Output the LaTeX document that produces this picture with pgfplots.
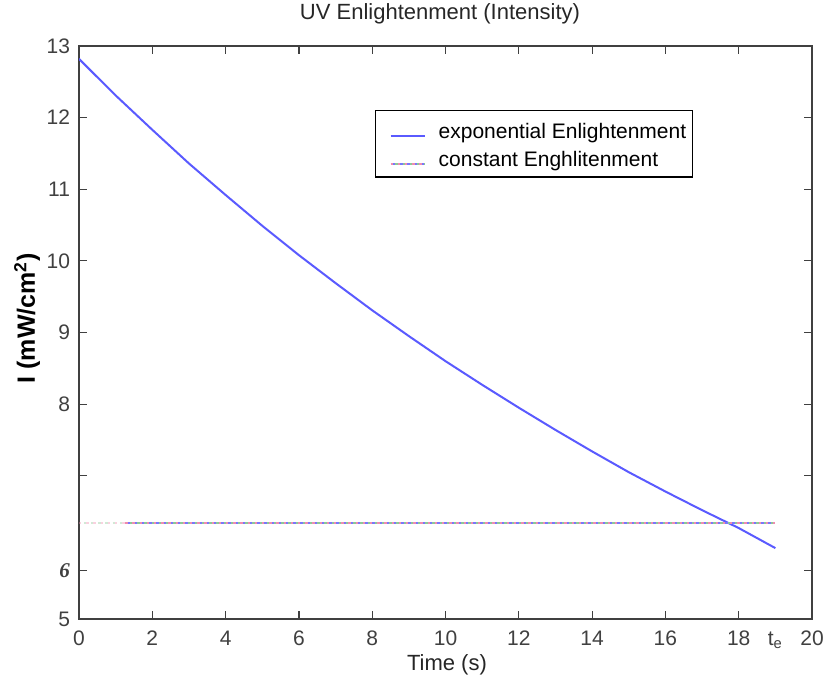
\documentclass[border=0pt]{standalone}
\usepackage{pgfplots}
\pgfplotsset{compat=1.18}
\usepackage{fontspec}
\setmainfont{Liberation Sans}
\newfontfamily\serifb{Liberation Serif}
\usetikzlibrary{calc}
\definecolor{expblue}{RGB}{90,90,255}
\definecolor{dotpink}{RGB}{240,140,175}
\definecolor{dotgreen}{RGB}{140,200,150}
\definecolor{dotblue}{RGB}{120,120,250}
\begin{document}
\begin{tikzpicture}
\begin{axis}[
  scale only axis,
  width=366.5pt, height=286.5pt,
  xmin=0, xmax=20, ymin=5, ymax=13,
  axis line style={black!75, line width=0.8pt},
  every tick/.style={black!75, line width=0.6pt},
  major tick length=4pt,
  tick align=inside,
  xtick={0,2,4,6,8,10,12,14,16,18,20},
  xticklabels={0,2,4,6,8,10,12,14,16,18,20},
  extra x ticks={19},
  extra x tick labels={t\textsubscript{e}},
  extra x tick style={major tick length=0pt},
  ytick={5,5.68,7,8,9,10,11,12,13},
  yticklabels={5,{\serifb\bfseries\itshape 6},{},8,9,10,11,12,13},
  xticklabel style={anchor=base, yshift=-13.25pt, font=\fontsize{10.5}{12}\selectfont, text=black!75},
  yticklabel style={anchor=east, xshift=-1pt, font=\fontsize{10.5}{12}\selectfont, text=black!75},
  title={UV Enlightenment (Intensity)},
  title style={at={(0.4925,1)}, anchor=base, yshift=7.5pt, font=\fontsize{11}{13}\selectfont, text=black!85},
  xlabel={Time (s)},
  xlabel style={at={(axis description cs:0.502,0)}, anchor=base, yshift=-25.5pt, font=\fontsize{11}{13}\selectfont, text=black!85},
  ylabel={I (mW/cm\textsuperscript{2})},
  ylabel style={at={(axis description cs:-0.06003,0.525)}, anchor=base, font=\fontsize{12.5}{15}\selectfont\bfseries},
  legend style={at={(0.4038,0.8883)}, anchor=north west, draw=black, line width=0.7pt,
    inner xsep=1pt, inner ysep=3pt, row sep=1pt, font=\fontsize{10.5}{12}\selectfont,
    nodes={text height=9.05pt, text depth=0pt},
    cells={anchor=west}},
  legend cell align=left,
]
\coordinate (SW) at (rel axis cs:0,0);
\coordinate (NE) at (rel axis cs:1,1);

\addplot[expblue, line width=1pt, legend image code/.code={\path (-6pt,0pt) (21.5pt,0pt); \draw[expblue, line width=1pt] (0pt,-3pt) -- (17pt,-3pt);}] coordinates {
(0,12.82) (1,12.31) (2,11.83) (3,11.36) (4,10.92) (5,10.49) (6,10.08) (7,9.69)
(8,9.31) (9,8.95) (10,8.60) (11,8.27) (12,7.95) (13,7.64) (14,7.34) (15,7.05)
(16,6.78) (17,6.52) (18,6.27) (19,5.99)
};
\addlegendentry{exponential Enlightenment}

\addlegendimage{legend image code/.code={\path (-6pt,0pt) (21.5pt,0pt);
  \draw[dotpink, line width=1pt, dash pattern=on 1.2pt off 2.4pt] (0pt,-3pt) -- (17pt,-3pt);
  \draw[dotgreen, line width=1pt, dash pattern=on 1.2pt off 2.4pt, dash phase=1.2pt] (0pt,-3pt) -- (17pt,-3pt);
  \draw[dotblue, line width=1pt, dash pattern=on 1.2pt off 2.4pt, dash phase=2.4pt] (0pt,-3pt) -- (17pt,-3pt);}}
\addlegendentry{constant Enghlitenment}

\addplot[forget plot, dotpink, opacity=0.4, line width=1pt, dash pattern=on 1.2pt off 2.4pt] coordinates {(0,6.34) (1.26,6.34)};
\addplot[forget plot, dotgreen, opacity=0.4, line width=1pt, dash pattern=on 1.2pt off 2.4pt, dash phase=1.2pt] coordinates {(0,6.34) (1.26,6.34)};
\addplot[forget plot, dotpink, line width=1pt, dash pattern=on 1.2pt off 2.4pt] coordinates {(1.26,6.34) (19,6.34)};
\addplot[forget plot, dotgreen, line width=1pt, dash pattern=on 1.2pt off 2.4pt, dash phase=1.2pt] coordinates {(1.26,6.34) (19,6.34)};
\addplot[forget plot, dotblue, line width=1pt, dash pattern=on 1.2pt off 2.4pt, dash phase=2.4pt] coordinates {(1.26,6.34) (19,6.34)};
\end{axis}
\pgfresetboundingbox
\useasboundingbox ($(SW)+(-39.5pt,-28.5pt)$) rectangle ($(NE)+(7.5pt,23pt)$);
\end{tikzpicture}
\end{document}
